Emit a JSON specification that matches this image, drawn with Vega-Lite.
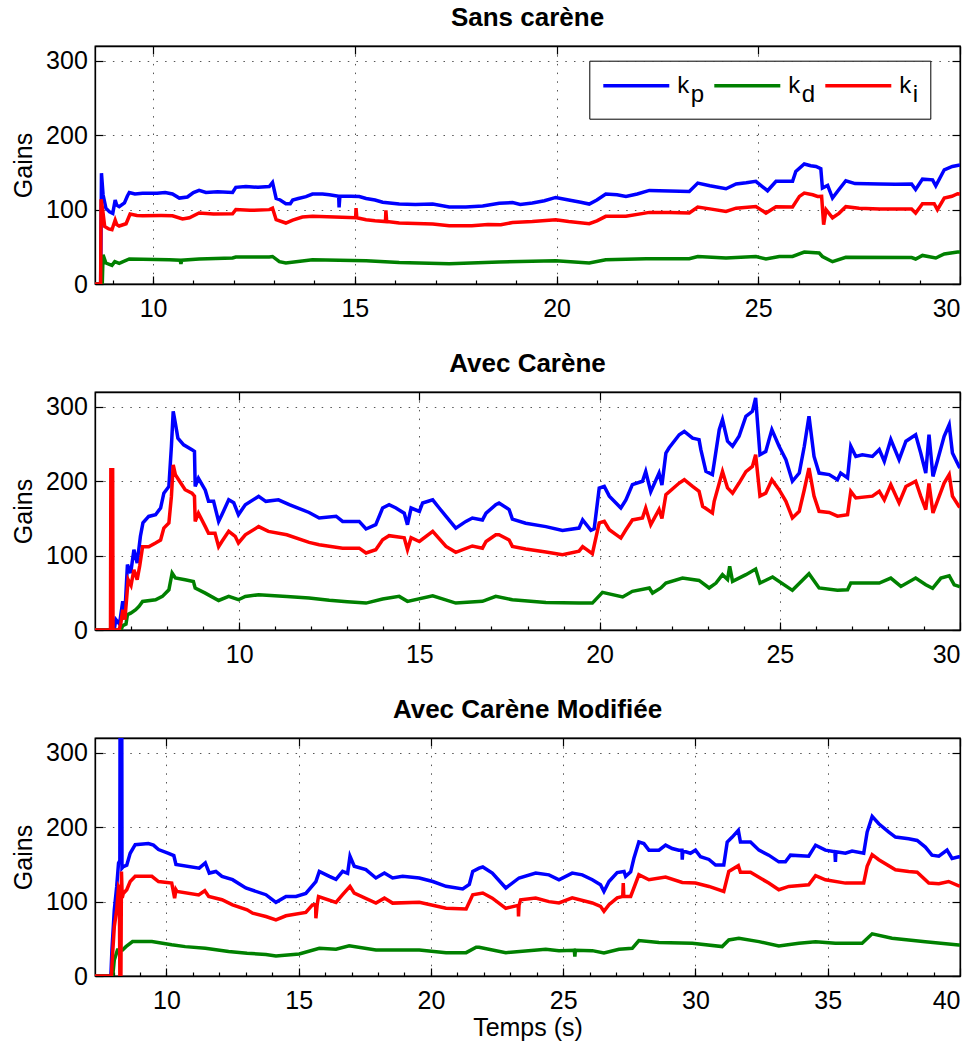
{
"$schema": "https://vega.github.io/schema/vega-lite/v6.json",
"background": "white",
"padding": {"left": 10, "top": 4, "right": 5, "bottom": 5},
"config": {
  "font": "Liberation Sans",
  "view": {"stroke": "black", "strokeWidth": 1.3},
  "axis": {"labelFont": "Liberation Sans", "labelFontSize": 25, "labelColor": "black", "titleFont": "Liberation Sans", "titleFontSize": 25, "titleFontWeight": "normal", "titleColor": "black", "domainColor": "black", "domainWidth": 1.3, "tickColor": "black", "tickWidth": 1.2, "tickSize": -8, "gridColor": "#555555", "gridDash": [1.5, 7.2], "gridWidth": 1, "gridOpacity": 1},
  "axisX": {"labelPadding": 20},
  "axisY": {"labelPadding": 15.7, "titlePadding": 9},
  "title": {"font": "Liberation Sans", "fontSize": 26, "fontWeight": "bold", "color": "black", "offset": 14, "anchor": "middle"},
  "style": {"guide-label": {"lineHeight": 9}}
},
"datasets": {
"p1": [
{"t":8.56,"k":"kp","v":0},{"t":8.70,"k":"kp","v":0},{"t":8.72,"k":"kp","v":149},{"t":8.76,"k":"kp","v":120},{"t":8.83,"k":"kp","v":102},{"t":8.92,"k":"kp","v":97},{"t":9.0,"k":"kp","v":95},{"t":9.06,"k":"kp","v":113},{"t":9.1,"k":"kp","v":106},{"t":9.16,"k":"kp","v":104},{"t":9.29,"k":"kp","v":109},{"t":9.36,"k":"kp","v":118},{"t":9.41,"k":"kp","v":123},{"t":9.55,"k":"kp","v":121},{"t":9.74,"k":"kp","v":122},{"t":10.1,"k":"kp","v":122},{"t":10.3,"k":"kp","v":123},{"t":10.48,"k":"kp","v":121},{"t":10.65,"k":"kp","v":115.5},{"t":10.85,"k":"kp","v":117},{"t":11.0,"k":"kp","v":123},{"t":11.14,"k":"kp","v":126},{"t":11.31,"k":"kp","v":123},{"t":11.6,"k":"kp","v":124},{"t":11.97,"k":"kp","v":123},{"t":12.05,"k":"kp","v":130},{"t":12.3,"k":"kp","v":131},{"t":12.6,"k":"kp","v":130},{"t":12.88,"k":"kp","v":131},{"t":12.96,"k":"kp","v":136.6},{"t":13.05,"k":"kp","v":115},{"t":13.15,"k":"kp","v":113},{"t":13.29,"k":"kp","v":108},{"t":13.4,"k":"kp","v":108},{"t":13.46,"k":"kp","v":113},{"t":13.6,"k":"kp","v":115},{"t":13.79,"k":"kp","v":117.5},{"t":13.95,"k":"kp","v":121},{"t":14.2,"k":"kp","v":121},{"t":14.37,"k":"kp","v":120},{"t":14.6,"k":"kp","v":118},{"t":14.61,"k":"kp","v":103},{"t":14.63,"k":"kp","v":118},{"t":14.9,"k":"kp","v":118},{"t":15.11,"k":"kp","v":117.6},{"t":15.28,"k":"kp","v":115},{"t":15.5,"k":"kp","v":113},{"t":15.69,"k":"kp","v":110},{"t":16.1,"k":"kp","v":107.5},{"t":16.5,"k":"kp","v":107},{"t":16.93,"k":"kp","v":107.5},{"t":17.34,"k":"kp","v":103.5},{"t":17.75,"k":"kp","v":103.5},{"t":18.17,"k":"kp","v":105},{"t":18.58,"k":"kp","v":108.5},{"t":18.91,"k":"kp","v":109.4},{"t":19.1,"k":"kp","v":107},{"t":19.4,"k":"kp","v":109},{"t":19.7,"k":"kp","v":112},{"t":19.98,"k":"kp","v":116.4},{"t":20.3,"k":"kp","v":113},{"t":20.6,"k":"kp","v":110},{"t":20.81,"k":"kp","v":107.5},{"t":21.0,"k":"kp","v":113},{"t":21.22,"k":"kp","v":121},{"t":21.5,"k":"kp","v":120},{"t":21.72,"k":"kp","v":117.6},{"t":22.0,"k":"kp","v":121},{"t":22.3,"k":"kp","v":125.8},{"t":22.8,"k":"kp","v":125},{"t":23.29,"k":"kp","v":124.5},{"t":23.5,"k":"kp","v":135.7},{"t":23.8,"k":"kp","v":132},{"t":24.2,"k":"kp","v":128},{"t":24.45,"k":"kp","v":134.4},{"t":24.7,"k":"kp","v":136},{"t":24.94,"k":"kp","v":138},{"t":25.1,"k":"kp","v":131},{"t":25.23,"k":"kp","v":125.4},{"t":25.44,"k":"kp","v":138},{"t":25.85,"k":"kp","v":138},{"t":25.93,"k":"kp","v":151.4},{"t":26.14,"k":"kp","v":161.3},{"t":26.3,"k":"kp","v":159},{"t":26.43,"k":"kp","v":158},{"t":26.55,"k":"kp","v":155},{"t":26.59,"k":"kp","v":129},{"t":26.72,"k":"kp","v":132.6},{"t":26.84,"k":"kp","v":115.6},{"t":27.0,"k":"kp","v":127},{"t":27.17,"k":"kp","v":138.8},{"t":27.4,"k":"kp","v":135},{"t":28.0,"k":"kp","v":134.4},{"t":28.4,"k":"kp","v":134},{"t":28.8,"k":"kp","v":134.4},{"t":28.9,"k":"kp","v":127},{"t":29.07,"k":"kp","v":141},{"t":29.32,"k":"kp","v":140},{"t":29.4,"k":"kp","v":132},{"t":29.61,"k":"kp","v":153.6},{"t":29.81,"k":"kp","v":158},{"t":30.0,"k":"kp","v":160},
{"t":8.56,"k":"kd","v":0},{"t":8.74,"k":"kd","v":0},{"t":8.76,"k":"kd","v":39.4},{"t":8.83,"k":"kd","v":28.2},{"t":8.98,"k":"kd","v":25},{"t":9.05,"k":"kd","v":30},{"t":9.16,"k":"kd","v":27.6},{"t":9.41,"k":"kd","v":33.6},{"t":10.4,"k":"kd","v":32.7},{"t":10.67,"k":"kd","v":32},{"t":10.69,"k":"kd","v":27},{"t":10.71,"k":"kd","v":32},{"t":11.14,"k":"kd","v":33.6},{"t":11.97,"k":"kd","v":35},{"t":12.05,"k":"kd","v":36.3},{"t":12.88,"k":"kd","v":36.3},{"t":12.96,"k":"kd","v":37},{"t":13.13,"k":"kd","v":30},{"t":13.29,"k":"kd","v":28.2},{"t":13.95,"k":"kd","v":32.7},{"t":15.28,"k":"kd","v":31.4},{"t":16.1,"k":"kd","v":29},{"t":17.34,"k":"kd","v":27.3},{"t":18.58,"k":"kd","v":29.5},{"t":19.98,"k":"kd","v":31.4},{"t":20.81,"k":"kd","v":28.2},{"t":21.22,"k":"kd","v":32.7},{"t":22.22,"k":"kd","v":34},{"t":23.29,"k":"kd","v":34},{"t":23.5,"k":"kd","v":37},{"t":24.2,"k":"kd","v":35},{"t":24.94,"k":"kd","v":37},{"t":25.19,"k":"kd","v":33.6},{"t":25.52,"k":"kd","v":37},{"t":25.85,"k":"kd","v":37},{"t":26.14,"k":"kd","v":43},{"t":26.51,"k":"kd","v":41.6},{"t":26.59,"k":"kd","v":37},{"t":26.84,"k":"kd","v":30},{"t":27.17,"k":"kd","v":36},{"t":28.8,"k":"kd","v":35.5},{"t":28.9,"k":"kd","v":33.6},{"t":29.07,"k":"kd","v":38.4},{"t":29.4,"k":"kd","v":35},{"t":29.61,"k":"kd","v":40.3},{"t":29.94,"k":"kd","v":43},{"t":30.0,"k":"kd","v":43},
{"t":8.56,"k":"ki","v":0},{"t":8.70,"k":"ki","v":0},{"t":8.71,"k":"ki","v":114},{"t":8.75,"k":"ki","v":100},{"t":8.8,"k":"ki","v":77.4},{"t":8.9,"k":"ki","v":74},{"t":8.98,"k":"ki","v":73},{"t":9.06,"k":"ki","v":86},{"t":9.1,"k":"ki","v":80},{"t":9.16,"k":"ki","v":78},{"t":9.33,"k":"ki","v":81},{"t":9.43,"k":"ki","v":94},{"t":9.6,"k":"ki","v":92},{"t":9.74,"k":"ki","v":91.8},{"t":10.2,"k":"ki","v":92},{"t":10.48,"k":"ki","v":91.8},{"t":10.73,"k":"ki","v":87.4},{"t":10.9,"k":"ki","v":89},{"t":11.14,"k":"ki","v":95.4},{"t":11.5,"k":"ki","v":94},{"t":11.97,"k":"ki","v":94.5},{"t":12.05,"k":"ki","v":100},{"t":12.4,"k":"ki","v":99},{"t":12.88,"k":"ki","v":100},{"t":12.96,"k":"ki","v":102},{"t":13.05,"k":"ki","v":86.4},{"t":13.29,"k":"ki","v":82},{"t":13.46,"k":"ki","v":86},{"t":13.7,"k":"ki","v":90},{"t":13.95,"k":"ki","v":91},{"t":14.5,"k":"ki","v":90},{"t":15.02,"k":"ki","v":89},{"t":15.03,"k":"ki","v":102},{"t":15.05,"k":"ki","v":89},{"t":15.28,"k":"ki","v":86.4},{"t":15.5,"k":"ki","v":85},{"t":15.76,"k":"ki","v":84},{"t":15.77,"k":"ki","v":99},{"t":15.79,"k":"ki","v":84},{"t":16.1,"k":"ki","v":82},{"t":16.93,"k":"ki","v":80.8},{"t":17.34,"k":"ki","v":78.4},{"t":17.9,"k":"ki","v":78.4},{"t":18.3,"k":"ki","v":80},{"t":18.62,"k":"ki","v":79.7},{"t":18.91,"k":"ki","v":82.7},{"t":19.4,"k":"ki","v":84},{"t":19.98,"k":"ki","v":86.4},{"t":20.3,"k":"ki","v":84},{"t":20.81,"k":"ki","v":81},{"t":21.0,"k":"ki","v":85},{"t":21.22,"k":"ki","v":91},{"t":21.72,"k":"ki","v":91},{"t":22.3,"k":"ki","v":96.3},{"t":22.8,"k":"ki","v":96},{"t":23.29,"k":"ki","v":95.4},{"t":23.5,"k":"ki","v":103.5},{"t":23.8,"k":"ki","v":101},{"t":24.2,"k":"ki","v":97.6},{"t":24.45,"k":"ki","v":102},{"t":24.94,"k":"ki","v":104.3},{"t":25.19,"k":"ki","v":95.4},{"t":25.44,"k":"ki","v":104},{"t":25.85,"k":"ki","v":103.5},{"t":26.02,"k":"ki","v":117.8},{"t":26.14,"k":"ki","v":122.3},{"t":26.35,"k":"ki","v":120},{"t":26.47,"k":"ki","v":117.8},{"t":26.57,"k":"ki","v":118},{"t":26.62,"k":"ki","v":79.7},{"t":26.68,"k":"ki","v":100},{"t":26.84,"k":"ki","v":89},{"t":27.0,"k":"ki","v":95},{"t":27.17,"k":"ki","v":104},{"t":27.5,"k":"ki","v":102},{"t":28.0,"k":"ki","v":100.8},{"t":28.8,"k":"ki","v":100.8},{"t":28.9,"k":"ki","v":95.4},{"t":29.07,"k":"ki","v":108},{"t":29.36,"k":"ki","v":108},{"t":29.44,"k":"ki","v":100},{"t":29.61,"k":"ki","v":115.6},{"t":29.8,"k":"ki","v":118},{"t":29.94,"k":"ki","v":121.4},{"t":30.0,"k":"ki","v":121}
],
"p2": [
{"t":6.0,"k":"kp","v":0},{"t":6.53,"k":"kp","v":0},{"t":6.58,"k":"kp","v":14},{"t":6.68,"k":"kp","v":8},{"t":6.77,"k":"kp","v":38.5},{"t":6.83,"k":"kp","v":23},{"t":6.9,"k":"kp","v":88},{"t":6.99,"k":"kp","v":76.6},{"t":7.08,"k":"kp","v":108},{"t":7.17,"k":"kp","v":90},{"t":7.26,"k":"kp","v":126},{"t":7.33,"k":"kp","v":144},{"t":7.49,"k":"kp","v":152.7},{"t":7.68,"k":"kp","v":155},{"t":7.82,"k":"kp","v":164},{"t":7.91,"k":"kp","v":184},{"t":8.05,"k":"kp","v":193},{"t":8.12,"k":"kp","v":247},{"t":8.17,"k":"kp","v":294},{"t":8.23,"k":"kp","v":278},{"t":8.3,"k":"kp","v":258},{"t":8.46,"k":"kp","v":249},{"t":8.69,"k":"kp","v":242.5},{"t":8.76,"k":"kp","v":240},{"t":8.78,"k":"kp","v":193},{"t":8.87,"k":"kp","v":204},{"t":9.06,"k":"kp","v":188},{"t":9.15,"k":"kp","v":173},{"t":9.29,"k":"kp","v":173},{"t":9.43,"k":"kp","v":146},{"t":9.52,"k":"kp","v":155},{"t":9.71,"k":"kp","v":175},{"t":9.85,"k":"kp","v":171},{"t":9.98,"k":"kp","v":155},{"t":10.17,"k":"kp","v":168.5},{"t":10.54,"k":"kp","v":179.6},{"t":10.74,"k":"kp","v":173},{"t":11.09,"k":"kp","v":175},{"t":11.39,"k":"kp","v":168.5},{"t":11.94,"k":"kp","v":158},{"t":12.22,"k":"kp","v":150.6},{"t":12.69,"k":"kp","v":153},{"t":12.87,"k":"kp","v":146},{"t":13.33,"k":"kp","v":146},{"t":13.52,"k":"kp","v":135.8},{"t":13.79,"k":"kp","v":141.6},{"t":13.98,"k":"kp","v":164},{"t":14.16,"k":"kp","v":168.5},{"t":14.35,"k":"kp","v":164},{"t":14.58,"k":"kp","v":157},{"t":14.67,"k":"kp","v":141.6},{"t":14.77,"k":"kp","v":164},{"t":15.0,"k":"kp","v":159.5},{"t":15.09,"k":"kp","v":170.8},{"t":15.37,"k":"kp","v":175},{"t":15.55,"k":"kp","v":164},{"t":15.74,"k":"kp","v":152.7},{"t":16.01,"k":"kp","v":137},{"t":16.29,"k":"kp","v":146},{"t":16.47,"k":"kp","v":150.6},{"t":16.75,"k":"kp","v":148},{"t":16.85,"k":"kp","v":157},{"t":17.12,"k":"kp","v":168.5},{"t":17.21,"k":"kp","v":170.8},{"t":17.49,"k":"kp","v":162},{"t":17.58,"k":"kp","v":149},{"t":17.95,"k":"kp","v":143.6},{"t":18.51,"k":"kp","v":139},{"t":18.97,"k":"kp","v":133.9},{"t":19.43,"k":"kp","v":137},{"t":19.53,"k":"kp","v":148},{"t":19.76,"k":"kp","v":134},{"t":19.85,"k":"kp","v":136},{"t":19.99,"k":"kp","v":190.9},{"t":20.13,"k":"kp","v":193},{"t":20.27,"k":"kp","v":180},{"t":20.59,"k":"kp","v":164},{"t":20.73,"k":"kp","v":175},{"t":20.91,"k":"kp","v":195.4},{"t":21.19,"k":"kp","v":200},{"t":21.28,"k":"kp","v":213},{"t":21.42,"k":"kp","v":186},{"t":21.65,"k":"kp","v":211},{"t":21.73,"k":"kp","v":195},{"t":21.84,"k":"kp","v":238},{"t":21.93,"k":"kp","v":245},{"t":22.21,"k":"kp","v":262.6},{"t":22.35,"k":"kp","v":267},{"t":22.58,"k":"kp","v":258},{"t":22.76,"k":"kp","v":256},{"t":22.81,"k":"kp","v":242.5},{"t":22.95,"k":"kp","v":213.4},{"t":23.13,"k":"kp","v":209},{"t":23.18,"k":"kp","v":224.6},{"t":23.32,"k":"kp","v":269.4},{"t":23.41,"k":"kp","v":283},{"t":23.55,"k":"kp","v":253.8},{"t":23.69,"k":"kp","v":247},{"t":23.87,"k":"kp","v":260.5},{"t":24.06,"k":"kp","v":287.4},{"t":24.24,"k":"kp","v":294},{"t":24.33,"k":"kp","v":312},{"t":24.45,"k":"kp","v":235.7},{"t":24.61,"k":"kp","v":240},{"t":24.78,"k":"kp","v":269.4},{"t":24.98,"k":"kp","v":247},{"t":25.17,"k":"kp","v":229},{"t":25.35,"k":"kp","v":200},{"t":25.54,"k":"kp","v":211},{"t":25.68,"k":"kp","v":247},{"t":25.81,"k":"kp","v":287.4},{"t":25.95,"k":"kp","v":233.4},{"t":26.09,"k":"kp","v":211},{"t":26.37,"k":"kp","v":209},{"t":26.6,"k":"kp","v":202},{"t":26.69,"k":"kp","v":211},{"t":26.88,"k":"kp","v":204.6},{"t":26.97,"k":"kp","v":247},{"t":27.11,"k":"kp","v":233.4},{"t":27.29,"k":"kp","v":235.7},{"t":27.57,"k":"kp","v":233.4},{"t":27.76,"k":"kp","v":242.5},{"t":27.9,"k":"kp","v":226.8},{"t":28.08,"k":"kp","v":256},{"t":28.31,"k":"kp","v":229},{"t":28.5,"k":"kp","v":253.8},{"t":28.77,"k":"kp","v":262.6},{"t":28.91,"k":"kp","v":238},{"t":29.05,"k":"kp","v":211},{"t":29.14,"k":"kp","v":262.6},{"t":29.25,"k":"kp","v":206.5},{"t":29.37,"k":"kp","v":226.8},{"t":29.56,"k":"kp","v":260.5},{"t":29.7,"k":"kp","v":276},{"t":29.79,"k":"kp","v":238},{"t":29.97,"k":"kp","v":220},{"t":30.0,"k":"kp","v":218},
{"t":6.0,"k":"kd","v":0},{"t":6.72,"k":"kd","v":0},{"t":6.77,"k":"kd","v":5.9},{"t":6.86,"k":"kd","v":8},{"t":6.9,"k":"kd","v":20.5},{"t":6.99,"k":"kd","v":22.7},{"t":7.13,"k":"kd","v":27.2},{"t":7.22,"k":"kd","v":31.7},{"t":7.32,"k":"kd","v":38.4},{"t":7.68,"k":"kd","v":40.7},{"t":7.87,"k":"kd","v":45.2},{"t":8.05,"k":"kd","v":54},{"t":8.14,"k":"kd","v":76.6},{"t":8.23,"k":"kd","v":70},{"t":8.5,"k":"kd","v":67.6},{"t":8.73,"k":"kd","v":65.3},{"t":8.78,"k":"kd","v":56.3},{"t":9.06,"k":"kd","v":49.6},{"t":9.43,"k":"kd","v":39.7},{"t":9.71,"k":"kd","v":45.2},{"t":9.98,"k":"kd","v":40.7},{"t":10.17,"k":"kd","v":45},{"t":10.54,"k":"kd","v":47.4},{"t":11.32,"k":"kd","v":45.2},{"t":11.94,"k":"kd","v":43},{"t":12.5,"k":"kd","v":40},{"t":13.0,"k":"kd","v":38},{"t":13.52,"k":"kd","v":36.2},{"t":13.98,"k":"kd","v":41.6},{"t":14.44,"k":"kd","v":45.2},{"t":14.67,"k":"kd","v":38.5},{"t":15.37,"k":"kd","v":46},{"t":16.01,"k":"kd","v":36.2},{"t":16.75,"k":"kd","v":38.5},{"t":17.12,"k":"kd","v":45.2},{"t":17.58,"k":"kd","v":40.7},{"t":18.51,"k":"kd","v":37},{"t":19.43,"k":"kd","v":36.2},{"t":19.8,"k":"kd","v":36.2},{"t":20.08,"k":"kd","v":50.6},{"t":20.64,"k":"kd","v":44.4},{"t":20.91,"k":"kd","v":52},{"t":21.38,"k":"kd","v":56.5},{"t":21.47,"k":"kd","v":49.7},{"t":21.7,"k":"kd","v":56.5},{"t":21.84,"k":"kd","v":63.1},{"t":22.3,"k":"kd","v":69.8},{"t":22.76,"k":"kd","v":66.7},{"t":23.04,"k":"kd","v":56.5},{"t":23.23,"k":"kd","v":63.1},{"t":23.41,"k":"kd","v":74.4},{"t":23.55,"k":"kd","v":68},{"t":23.61,"k":"kd","v":85.5},{"t":23.69,"k":"kd","v":65.4},{"t":24.06,"k":"kd","v":74.4},{"t":24.33,"k":"kd","v":82},{"t":24.45,"k":"kd","v":63.1},{"t":24.8,"k":"kd","v":71.2},{"t":25.35,"k":"kd","v":53.3},{"t":25.81,"k":"kd","v":75.7},{"t":26.09,"k":"kd","v":56.5},{"t":26.6,"k":"kd","v":53.3},{"t":26.88,"k":"kd","v":54},{"t":26.97,"k":"kd","v":63.1},{"t":27.76,"k":"kd","v":63.1},{"t":28.08,"k":"kd","v":69.8},{"t":28.36,"k":"kd","v":58.6},{"t":28.77,"k":"kd","v":69.8},{"t":29.05,"k":"kd","v":60.8},{"t":29.24,"k":"kd","v":56},{"t":29.47,"k":"kd","v":69.8},{"t":29.7,"k":"kd","v":73},{"t":29.84,"k":"kd","v":60.8},{"t":29.97,"k":"kd","v":58.6},{"t":30.0,"k":"kd","v":58},
{"t":6.0,"k":"ki","v":0},{"t":6.43,"k":"ki","v":0},{"t":6.44,"k":"ki","v":215.5},{"t":6.49,"k":"ki","v":215.5},{"t":6.5,"k":"ki","v":0},{"t":6.67,"k":"ki","v":0},{"t":6.72,"k":"ki","v":10},{"t":6.77,"k":"ki","v":27.3},{"t":6.83,"k":"ki","v":14},{"t":6.92,"k":"ki","v":67.6},{"t":7.0,"k":"ki","v":60},{"t":7.08,"k":"ki","v":81},{"t":7.17,"k":"ki","v":67.6},{"t":7.24,"k":"ki","v":86},{"t":7.32,"k":"ki","v":112},{"t":7.49,"k":"ki","v":112},{"t":7.68,"k":"ki","v":117},{"t":7.82,"k":"ki","v":121},{"t":7.91,"k":"ki","v":137},{"t":8.05,"k":"ki","v":144},{"t":8.12,"k":"ki","v":179.6},{"t":8.17,"k":"ki","v":222},{"t":8.23,"k":"ki","v":209},{"t":8.32,"k":"ki","v":202},{"t":8.5,"k":"ki","v":188.6},{"t":8.69,"k":"ki","v":184},{"t":8.76,"k":"ki","v":180},{"t":8.78,"k":"ki","v":146},{"t":8.87,"k":"ki","v":157},{"t":9.06,"k":"ki","v":139},{"t":9.15,"k":"ki","v":130},{"t":9.33,"k":"ki","v":130},{"t":9.43,"k":"ki","v":112},{"t":9.52,"k":"ki","v":119},{"t":9.71,"k":"ki","v":132.6},{"t":9.89,"k":"ki","v":126},{"t":9.98,"k":"ki","v":117},{"t":10.17,"k":"ki","v":128},{"t":10.54,"k":"ki","v":139},{"t":10.81,"k":"ki","v":132.6},{"t":11.32,"k":"ki","v":128},{"t":11.94,"k":"ki","v":117.8},{"t":12.22,"k":"ki","v":114.7},{"t":12.87,"k":"ki","v":110},{"t":13.33,"k":"ki","v":110},{"t":13.52,"k":"ki","v":103.5},{"t":13.79,"k":"ki","v":108},{"t":13.98,"k":"ki","v":121.4},{"t":14.16,"k":"ki","v":126.8},{"t":14.58,"k":"ki","v":124},{"t":14.67,"k":"ki","v":108},{"t":14.77,"k":"ki","v":124},{"t":15.0,"k":"ki","v":119},{"t":15.37,"k":"ki","v":132.6},{"t":15.74,"k":"ki","v":112.4},{"t":16.01,"k":"ki","v":104.4},{"t":16.47,"k":"ki","v":113},{"t":16.75,"k":"ki","v":110},{"t":16.85,"k":"ki","v":119},{"t":17.12,"k":"ki","v":128},{"t":17.21,"k":"ki","v":128},{"t":17.49,"k":"ki","v":121},{"t":17.58,"k":"ki","v":112.4},{"t":17.95,"k":"ki","v":109},{"t":18.51,"k":"ki","v":105},{"t":18.97,"k":"ki","v":101.3},{"t":19.43,"k":"ki","v":106},{"t":19.53,"k":"ki","v":112},{"t":19.8,"k":"ki","v":102.6},{"t":19.99,"k":"ki","v":144},{"t":20.13,"k":"ki","v":146},{"t":20.27,"k":"ki","v":134.8},{"t":20.59,"k":"ki","v":123.6},{"t":20.73,"k":"ki","v":134.8},{"t":20.91,"k":"ki","v":148},{"t":21.19,"k":"ki","v":150.7},{"t":21.28,"k":"ki","v":164},{"t":21.42,"k":"ki","v":141.6},{"t":21.65,"k":"ki","v":162},{"t":21.73,"k":"ki","v":150},{"t":21.84,"k":"ki","v":182},{"t":22.21,"k":"ki","v":197.6},{"t":22.35,"k":"ki","v":202},{"t":22.58,"k":"ki","v":193},{"t":22.76,"k":"ki","v":186.4},{"t":22.86,"k":"ki","v":166.3},{"t":23.13,"k":"ki","v":157.4},{"t":23.18,"k":"ki","v":173},{"t":23.41,"k":"ki","v":213},{"t":23.55,"k":"ki","v":191},{"t":23.69,"k":"ki","v":184},{"t":23.87,"k":"ki","v":197.6},{"t":24.06,"k":"ki","v":213},{"t":24.24,"k":"ki","v":220},{"t":24.33,"k":"ki","v":235.7},{"t":24.45,"k":"ki","v":180},{"t":24.61,"k":"ki","v":184},{"t":24.78,"k":"ki","v":202},{"t":24.98,"k":"ki","v":188.6},{"t":25.17,"k":"ki","v":173},{"t":25.35,"k":"ki","v":150.7},{"t":25.54,"k":"ki","v":159.6},{"t":25.68,"k":"ki","v":188.6},{"t":25.81,"k":"ki","v":217.7},{"t":25.95,"k":"ki","v":180},{"t":26.09,"k":"ki","v":159.6},{"t":26.37,"k":"ki","v":158},{"t":26.6,"k":"ki","v":153},{"t":26.88,"k":"ki","v":155},{"t":26.97,"k":"ki","v":186.4},{"t":27.11,"k":"ki","v":177.5},{"t":27.57,"k":"ki","v":180},{"t":27.76,"k":"ki","v":186.4},{"t":27.9,"k":"ki","v":175},{"t":28.08,"k":"ki","v":195.4},{"t":28.31,"k":"ki","v":170.8},{"t":28.5,"k":"ki","v":193},{"t":28.77,"k":"ki","v":200},{"t":28.91,"k":"ki","v":180},{"t":29.05,"k":"ki","v":162},{"t":29.14,"k":"ki","v":197},{"t":29.25,"k":"ki","v":157.4},{"t":29.37,"k":"ki","v":173},{"t":29.56,"k":"ki","v":197.6},{"t":29.7,"k":"ki","v":209},{"t":29.79,"k":"ki","v":180},{"t":29.97,"k":"ki","v":166.3},{"t":30.0,"k":"ki","v":165}
],
"p3": [
{"t":7.3,"k":"kp","v":0},{"t":7.9,"k":"kp","v":0},{"t":7.94,"k":"kp","v":35},{"t":8.03,"k":"kp","v":89},{"t":8.12,"k":"kp","v":120},{"t":8.19,"k":"kp","v":152},{"t":8.24,"k":"kp","v":155},{"t":8.25,"k":"kp","v":400},{"t":8.31,"k":"kp","v":400},{"t":8.32,"k":"kp","v":145},{"t":8.37,"k":"kp","v":147},{"t":8.5,"k":"kp","v":149},{"t":8.63,"k":"kp","v":165},{"t":8.82,"k":"kp","v":176.6},{"t":9.32,"k":"kp","v":178},{"t":9.51,"k":"kp","v":176},{"t":9.7,"k":"kp","v":170},{"t":10.08,"k":"kp","v":165},{"t":10.28,"k":"kp","v":162},{"t":10.36,"k":"kp","v":150},{"t":11.24,"k":"kp","v":145},{"t":11.47,"k":"kp","v":152},{"t":11.62,"k":"kp","v":138.4},{"t":11.87,"k":"kp","v":140.6},{"t":12.1,"k":"kp","v":134},{"t":12.5,"k":"kp","v":129.5},{"t":13.0,"k":"kp","v":118.3},{"t":13.76,"k":"kp","v":109.3},{"t":14.14,"k":"kp","v":99},{"t":14.52,"k":"kp","v":107},{"t":14.9,"k":"kp","v":107},{"t":15.27,"k":"kp","v":111},{"t":15.65,"k":"kp","v":127},{"t":15.78,"k":"kp","v":140.6},{"t":16.16,"k":"kp","v":134},{"t":16.41,"k":"kp","v":130},{"t":16.66,"k":"kp","v":140.6},{"t":16.85,"k":"kp","v":138},{"t":16.94,"k":"kp","v":161},{"t":17.1,"k":"kp","v":147.6},{"t":17.54,"k":"kp","v":143},{"t":17.92,"k":"kp","v":131.8},{"t":18.24,"k":"kp","v":138.4},{"t":18.55,"k":"kp","v":131.8},{"t":18.93,"k":"kp","v":134},{"t":19.56,"k":"kp","v":131.8},{"t":20.07,"k":"kp","v":127},{"t":20.57,"k":"kp","v":120.6},{"t":21.2,"k":"kp","v":117},{"t":21.45,"k":"kp","v":123},{"t":21.58,"k":"kp","v":140.6},{"t":21.82,"k":"kp","v":145},{"t":21.96,"k":"kp","v":146.6},{"t":22.32,"k":"kp","v":138.4},{"t":22.83,"k":"kp","v":118.3},{"t":23.33,"k":"kp","v":131.8},{"t":23.96,"k":"kp","v":138.4},{"t":24.46,"k":"kp","v":136},{"t":24.84,"k":"kp","v":129.4},{"t":25.34,"k":"kp","v":138.4},{"t":25.72,"k":"kp","v":136},{"t":26.1,"k":"kp","v":129.4},{"t":26.41,"k":"kp","v":122.7},{"t":26.54,"k":"kp","v":113.7},{"t":26.73,"k":"kp","v":127},{"t":27.04,"k":"kp","v":139},{"t":27.3,"k":"kp","v":140.6},{"t":27.36,"k":"kp","v":133.9},{"t":27.55,"k":"kp","v":140},{"t":27.67,"k":"kp","v":158},{"t":27.86,"k":"kp","v":180.1},{"t":28.05,"k":"kp","v":178},{"t":28.24,"k":"kp","v":169.2},{"t":28.62,"k":"kp","v":169.2},{"t":28.87,"k":"kp","v":175.9},{"t":29.12,"k":"kp","v":171.4},{"t":29.37,"k":"kp","v":169},{"t":29.49,"k":"kp","v":169},{"t":29.5,"k":"kp","v":156.4},{"t":29.52,"k":"kp","v":168},{"t":29.63,"k":"kp","v":167},{"t":29.81,"k":"kp","v":165},{"t":30.0,"k":"kp","v":169.2},{"t":30.19,"k":"kp","v":160.3},{"t":30.51,"k":"kp","v":156.7},{"t":30.76,"k":"kp","v":149.1},{"t":31.07,"k":"kp","v":149.1},{"t":31.2,"k":"kp","v":180.1},{"t":31.39,"k":"kp","v":186.8},{"t":31.62,"k":"kp","v":195.8},{"t":31.7,"k":"kp","v":180.1},{"t":32.08,"k":"kp","v":180.1},{"t":32.4,"k":"kp","v":169.2},{"t":32.77,"k":"kp","v":162.5},{"t":33.15,"k":"kp","v":153.5},{"t":33.4,"k":"kp","v":153.5},{"t":33.59,"k":"kp","v":162.5},{"t":34.28,"k":"kp","v":161},{"t":34.54,"k":"kp","v":175.9},{"t":34.91,"k":"kp","v":169.2},{"t":35.27,"k":"kp","v":167},{"t":35.29,"k":"kp","v":153.5},{"t":35.31,"k":"kp","v":167},{"t":35.67,"k":"kp","v":165},{"t":35.92,"k":"kp","v":168},{"t":36.36,"k":"kp","v":165},{"t":36.49,"k":"kp","v":193.5},{"t":36.68,"k":"kp","v":214.6},{"t":36.93,"k":"kp","v":204.7},{"t":37.31,"k":"kp","v":193.5},{"t":37.56,"k":"kp","v":186.8},{"t":38.06,"k":"kp","v":184.6},{"t":38.38,"k":"kp","v":182.3},{"t":38.69,"k":"kp","v":173.4},{"t":38.94,"k":"kp","v":162.5},{"t":39.2,"k":"kp","v":161},{"t":39.51,"k":"kp","v":169.2},{"t":39.7,"k":"kp","v":158},{"t":39.95,"k":"kp","v":160.3},{"t":40.0,"k":"kp","v":160},
{"t":7.3,"k":"kd","v":0},{"t":7.97,"k":"kd","v":0},{"t":8.03,"k":"kd","v":21.6},{"t":8.15,"k":"kd","v":35},{"t":8.34,"k":"kd","v":35},{"t":8.47,"k":"kd","v":39.5},{"t":8.72,"k":"kd","v":46.3},{"t":9.45,"k":"kd","v":46.3},{"t":10.2,"k":"kd","v":42},{"t":10.71,"k":"kd","v":39.5},{"t":11.47,"k":"kd","v":37.3},{"t":12.35,"k":"kd","v":32.8},{"t":13.05,"k":"kd","v":30.5},{"t":13.76,"k":"kd","v":29},{"t":14.14,"k":"kd","v":26.9},{"t":15.02,"k":"kd","v":29.6},{"t":15.78,"k":"kd","v":37.3},{"t":16.41,"k":"kd","v":36},{"t":16.91,"k":"kd","v":40.5},{"t":17.92,"k":"kd","v":35},{"t":19.56,"k":"kd","v":35},{"t":20.57,"k":"kd","v":31.4},{"t":21.33,"k":"kd","v":31.4},{"t":21.71,"k":"kd","v":38.6},{"t":21.82,"k":"kd","v":38.6},{"t":22.83,"k":"kd","v":31.4},{"t":24.34,"k":"kd","v":36},{"t":24.84,"k":"kd","v":34.1},{"t":25.42,"k":"kd","v":34.5},{"t":25.44,"k":"kd","v":26},{"t":25.46,"k":"kd","v":34.5},{"t":26.1,"k":"kd","v":34.1},{"t":26.54,"k":"kd","v":30.9},{"t":27.11,"k":"kd","v":35.9},{"t":27.61,"k":"kd","v":37.2},{"t":27.86,"k":"kd","v":47.6},{"t":28.62,"k":"kd","v":45},{"t":29.88,"k":"kd","v":44.1},{"t":31.01,"k":"kd","v":39.6},{"t":31.26,"k":"kd","v":48.5},{"t":31.64,"k":"kd","v":50.7},{"t":32.4,"k":"kd","v":46.2},{"t":33.15,"k":"kd","v":40.4},{"t":33.91,"k":"kd","v":44.1},{"t":34.54,"k":"kd","v":46.2},{"t":35.29,"k":"kd","v":44.1},{"t":36.3,"k":"kd","v":44.1},{"t":36.68,"k":"kd","v":56.7},{"t":37.43,"k":"kd","v":50.7},{"t":38.69,"k":"kd","v":46.2},{"t":39.95,"k":"kd","v":41.8},{"t":40.0,"k":"kd","v":41.8},
{"t":7.3,"k":"ki","v":0},{"t":7.92,"k":"ki","v":0},{"t":7.96,"k":"ki","v":26},{"t":8.03,"k":"ki","v":66.5},{"t":8.12,"k":"ki","v":89},{"t":8.19,"k":"ki","v":120},{"t":8.22,"k":"ki","v":118},{"t":8.24,"k":"ki","v":0},{"t":8.28,"k":"ki","v":0},{"t":8.3,"k":"ki","v":140.6},{"t":8.33,"k":"ki","v":105},{"t":8.37,"k":"ki","v":111},{"t":8.5,"k":"ki","v":116},{"t":8.63,"k":"ki","v":127},{"t":8.82,"k":"ki","v":134},{"t":9.45,"k":"ki","v":134},{"t":9.7,"k":"ki","v":127},{"t":10.2,"k":"ki","v":125},{"t":10.31,"k":"ki","v":104.7},{"t":10.36,"k":"ki","v":116},{"t":10.4,"k":"ki","v":113.7},{"t":11.22,"k":"ki","v":109},{"t":11.45,"k":"ki","v":114.6},{"t":11.6,"k":"ki","v":107},{"t":12.1,"k":"ki","v":102.5},{"t":12.5,"k":"ki","v":95.6},{"t":13.05,"k":"ki","v":89},{"t":13.26,"k":"ki","v":84.4},{"t":13.76,"k":"ki","v":80},{"t":14.14,"k":"ki","v":75.5},{"t":14.52,"k":"ki","v":81},{"t":15.27,"k":"ki","v":85.4},{"t":15.52,"k":"ki","v":95.6},{"t":15.64,"k":"ki","v":96},{"t":15.65,"k":"ki","v":77.7},{"t":15.7,"k":"ki","v":96},{"t":15.75,"k":"ki","v":106.8},{"t":16.41,"k":"ki","v":99},{"t":16.66,"k":"ki","v":109.3},{"t":16.94,"k":"ki","v":120.6},{"t":17.1,"k":"ki","v":111.5},{"t":17.92,"k":"ki","v":98},{"t":18.24,"k":"ki","v":104.7},{"t":18.55,"k":"ki","v":98},{"t":19.56,"k":"ki","v":99},{"t":20.57,"k":"ki","v":91},{"t":21.33,"k":"ki","v":90},{"t":21.58,"k":"ki","v":109.3},{"t":21.96,"k":"ki","v":111.5},{"t":22.32,"k":"ki","v":104.7},{"t":22.83,"k":"ki","v":91},{"t":23.3,"k":"ki","v":95},{"t":23.31,"k":"ki","v":80},{"t":23.33,"k":"ki","v":95},{"t":23.39,"k":"ki","v":102.5},{"t":23.96,"k":"ki","v":104.7},{"t":24.46,"k":"ki","v":100},{"t":24.84,"k":"ki","v":98.2},{"t":25.34,"k":"ki","v":105},{"t":26.1,"k":"ki","v":98.2},{"t":26.41,"k":"ki","v":93.7},{"t":26.54,"k":"ki","v":87},{"t":26.73,"k":"ki","v":96},{"t":27.04,"k":"ki","v":105},{"t":27.25,"k":"ki","v":106.9},{"t":27.27,"k":"ki","v":124.9},{"t":27.29,"k":"ki","v":106.9},{"t":27.55,"k":"ki","v":106.9},{"t":27.86,"k":"ki","v":136.1},{"t":28.24,"k":"ki","v":129.4},{"t":28.87,"k":"ki","v":133},{"t":29.5,"k":"ki","v":125.8},{"t":30.0,"k":"ki","v":124.9},{"t":30.51,"k":"ki","v":120.4},{"t":31.07,"k":"ki","v":113.7},{"t":31.26,"k":"ki","v":140.6},{"t":31.62,"k":"ki","v":148.3},{"t":31.7,"k":"ki","v":139.5},{"t":32.08,"k":"ki","v":139.5},{"t":32.77,"k":"ki","v":124.9},{"t":33.15,"k":"ki","v":116},{"t":33.53,"k":"ki","v":120.4},{"t":34.28,"k":"ki","v":122.7},{"t":34.54,"k":"ki","v":134.9},{"t":34.91,"k":"ki","v":129.4},{"t":35.67,"k":"ki","v":124.9},{"t":36.36,"k":"ki","v":124.9},{"t":36.49,"k":"ki","v":147.4},{"t":36.68,"k":"ki","v":163.1},{"t":36.93,"k":"ki","v":156.4},{"t":37.56,"k":"ki","v":142.9},{"t":38.06,"k":"ki","v":140.6},{"t":38.38,"k":"ki","v":139.5},{"t":38.82,"k":"ki","v":124.9},{"t":39.2,"k":"ki","v":124},{"t":39.57,"k":"ki","v":127.1},{"t":39.95,"k":"ki","v":121.3},{"t":40.0,"k":"ki","v":121}
]
},
"resolve": {"scale": {"color": "independent"}, "legend": {"color": "independent"}},
"spacing": 28,
"vconcat": [
{
 "title": "Sans carène",
 "width": 865, "height": 238,
 "data": {"name": "p1"},
 "layer": [
  {"mark": {"type": "line", "strokeWidth": 3.5, "clip": true},
   "encoding": {
    "x": {"field": "t", "type": "quantitative", "scale": {"domain": [8.56, 30], "nice": false, "zero": false}, "axis": {"orient": "bottom", "values": [10, 15, 20, 25, 30], "grid": true, "title": null}},
    "y": {"field": "v", "type": "quantitative", "scale": {"domain": [0, 320], "nice": false}, "axis": {"orient": "left", "values": [0, 100, 200, 300], "grid": true, "title": "Gains"}},
    "color": {"field": "k", "type": "nominal", "scale": {"domain": ["kp", "kd", "ki"], "range": ["#0000ff", "#008000", "#ff0000"]},
      "legend": {"orient": "none", "legendX": 494.3, "legendY": 14.7, "direction": "horizontal", "title": null, "symbolType": "M-1,0H5", "symbolSize": 484, "symbolStrokeWidth": 3.5, "labelFont": "Liberation Sans", "labelFontSize": 24, "labelColor": "black", "labelBaseline": "middle", "labelExpr": "['k', '\u200b\u00a0\u00a0' + substring(datum.label, 1)]", "strokeColor": "black", "fillColor": "white", "padding": 12, "columnPadding": 3, "labelOffset": 50}}
   }},
  {"mark": {"type": "point", "opacity": 0, "clip": true},
   "encoding": {
    "x": {"field": "t", "type": "quantitative", "axis": {"orient": "top", "values": [10, 15, 20, 25, 30], "labels": false, "grid": false, "title": null}},
    "y": {"field": "v", "type": "quantitative", "axis": {"orient": "right", "values": [0, 100, 200, 300], "labels": false, "grid": false, "title": null}}
   }},
  {"mark": {"type": "point", "opacity": 0, "clip": true},
   "encoding": {
    "x": {"field": "t", "type": "quantitative", "axis": {"orient": "bottom", "values": [9,10,11,12,13,14,15,16,17,18,19,20,21,22,23,24,25,26,27,28,29], "labels": false, "grid": false, "title": null, "tickSize": -4, "domain": false}},
    "y": {"field": "v", "type": "quantitative", "axis": null}
   }}
 ],
 "resolve": {"axis": {"x": "independent", "y": "independent"}}
},
{
 "title": "Avec Carène",
 "width": 865, "height": 238,
 "data": {"name": "p2"},
 "layer": [
  {"mark": {"type": "line", "strokeWidth": 3.5, "clip": true},
   "encoding": {
    "x": {"field": "t", "type": "quantitative", "scale": {"domain": [6.0, 30], "nice": false, "zero": false}, "axis": {"orient": "bottom", "values": [10, 15, 20, 25, 30], "grid": true, "title": null}},
    "y": {"field": "v", "type": "quantitative", "scale": {"domain": [0, 320], "nice": false}, "axis": {"orient": "left", "values": [0, 100, 200, 300], "grid": true, "title": "Gains"}},
    "color": {"field": "k", "type": "nominal", "scale": {"domain": ["kp", "kd", "ki"], "range": ["#0000ff", "#008000", "#ff0000"]}, "legend": null}
   }},
  {"mark": {"type": "point", "opacity": 0, "clip": true},
   "encoding": {
    "x": {"field": "t", "type": "quantitative", "axis": {"orient": "top", "values": [10, 15, 20, 25, 30], "labels": false, "grid": false, "title": null}},
    "y": {"field": "v", "type": "quantitative", "axis": {"orient": "right", "values": [0, 100, 200, 300], "labels": false, "grid": false, "title": null}}
   }},
  {"mark": {"type": "point", "opacity": 0, "clip": true},
   "encoding": {
    "x": {"field": "t", "type": "quantitative", "axis": {"orient": "bottom", "values": [7,8,9,10,11,12,13,14,15,16,17,18,19,20,21,22,23,24,25,26,27,28,29], "labels": false, "grid": false, "title": null, "tickSize": -4, "domain": false}},
    "y": {"field": "v", "type": "quantitative", "axis": null}
   }}
 ],
 "resolve": {"axis": {"x": "independent", "y": "independent"}}
},
{
 "title": "Avec Carène Modifiée",
 "width": 865, "height": 238,
 "data": {"name": "p3"},
 "layer": [
  {"mark": {"type": "line", "strokeWidth": 3.5, "clip": true},
   "encoding": {
    "x": {"field": "t", "type": "quantitative", "scale": {"domain": [7.3, 40], "nice": false, "zero": false}, "axis": {"orient": "bottom", "values": [10, 15, 20, 25, 30, 35, 40], "grid": true, "title": "Temps (s)", "titlePadding": 2}},
    "y": {"field": "v", "type": "quantitative", "scale": {"domain": [0, 320], "nice": false}, "axis": {"orient": "left", "values": [0, 100, 200, 300], "grid": true, "title": "Gains"}},
    "color": {"field": "k", "type": "nominal", "scale": {"domain": ["kp", "kd", "ki"], "range": ["#0000ff", "#008000", "#ff0000"]}, "legend": null}
   }},
  {"mark": {"type": "point", "opacity": 0, "clip": true},
   "encoding": {
    "x": {"field": "t", "type": "quantitative", "axis": {"orient": "top", "values": [10, 15, 20, 25, 30, 35, 40], "labels": false, "grid": false, "title": null}},
    "y": {"field": "v", "type": "quantitative", "axis": {"orient": "right", "values": [0, 100, 200, 300], "labels": false, "grid": false, "title": null}}
   }},
  {"mark": {"type": "point", "opacity": 0, "clip": true},
   "encoding": {
    "x": {"field": "t", "type": "quantitative", "axis": {"orient": "bottom", "values": [8,9,10,11,12,13,14,15,16,17,18,19,20,21,22,23,24,25,26,27,28,29,30,31,32,33,34,35,36,37,38,39], "labels": false, "grid": false, "title": null, "tickSize": -4, "domain": false}},
    "y": {"field": "v", "type": "quantitative", "axis": null}
   }}
 ],
 "resolve": {"axis": {"x": "independent", "y": "independent"}}
}
]
}
